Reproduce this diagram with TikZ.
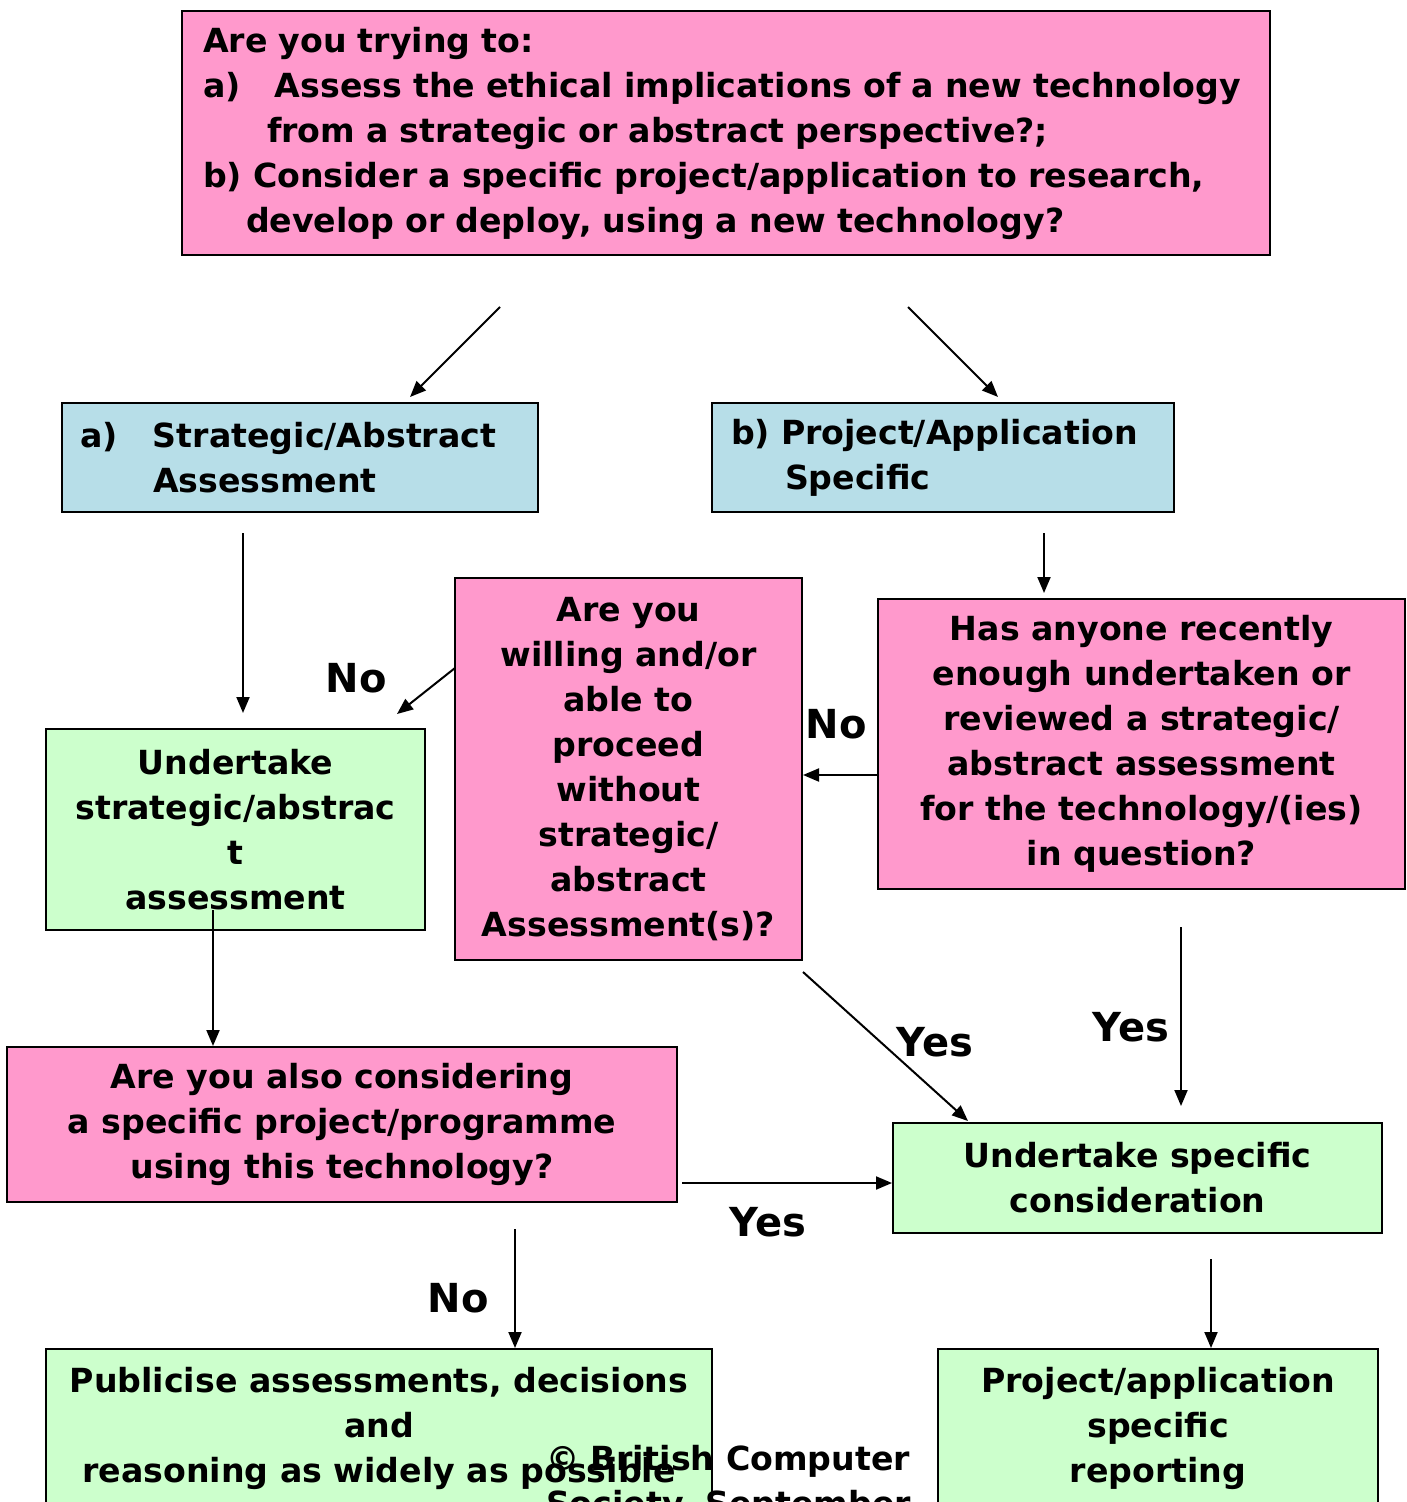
\documentclass[tikz,border=0pt]{standalone}
\usepackage{fontspec}
\setmainfont{DejaVu Sans}
\usetikzlibrary{arrows.meta}

\definecolor{qpink}{HTML}{FF99CC}
\definecolor{headblue}{HTML}{B7DEE8}
\definecolor{actgreen}{HTML}{CCFFCC}

\begin{document}
\begin{tikzpicture}[
  x=0.5pt, y=-0.5pt,
  every node/.style={font=\bfseries\fontsize{16.6}{22.5}\selectfont, inner sep=0pt},
  box/.style={draw, line width=1pt, align=center},
  ask/.style={box, fill=qpink},
  branch/.style={box, fill=headblue, align=left},
  act/.style={box, fill=actgreen},
  answer/.style={font=\bfseries\fontsize{20}{24}\selectfont},
  line width=1pt, >={Triangle[length=8pt,width=6.5pt]}
]
\useasboundingbox (0,0) rectangle (1406,1502);
\clip (0,0) rectangle (1406,1502);

% questions and actions
\node[ask, align=left, text width=523pt, inner xsep=10.5pt, minimum height=122pt] (trying) at (726,133)
  {Are you trying to:\\
   \makebox[36pt][l]{a)}Assess the ethical implications of a new technology\\
   \hspace*{32pt}from a strategic or abstract perspective?;\\
   b) Consider a specific project/application to research,\\
   \hspace*{21.5pt}develop or deploy, using a new technology?};

\node[branch, text width=220pt, inner xsep=9pt, minimum height=54.5pt] (strat) at (300,457.5)
  {\makebox[36.5pt][l]{a)}Strategic/Abstract\\\hspace*{36.5pt}Assessment};
\node[branch, text width=212pt, inner xsep=9.5pt, minimum height=54.5pt] (proj) at (943,457.5)
  {b) Project/Application\\\hspace*{27pt}Specific};

\node[ask, minimum width=173.5pt, minimum height=191pt] (willing) at (628.5,769)
  {Are you\\willing and/or\\able to\\proceed\\without\\strategic/\\abstract\\Assessment(s)?};
\node[ask, minimum width=263.5pt, minimum height=145pt] (recent) at (1141.5,744)
  {Has anyone recently\\enough undertaken or\\reviewed a strategic/\\abstract assessment\\for the technology/(ies)\\in question?};

\node[act, minimum width=189.5pt, minimum height=100.5pt] (doabstract) at (235.5,829.5)
  {Undertake\\strategic/abstrac\\t\\assessment};
\node[ask, minimum width=335pt, minimum height=77.5pt] (alsoproj) at (342,1124.5)
  {Are you also considering\\a specific project/programme\\using this technology?};
\node[act, minimum width=244.5pt, minimum height=55pt] (dospecific) at (1137.5,1178)
  {Undertake specific\\consideration};

\node[act, minimum width=333pt, minimum height=79pt] (publicise) at (379,1428)
  {Publicise assessments, decisions\\and\\reasoning as widely as possible};
\node[act, minimum width=220pt, minimum height=79pt] (report) at (1158,1428)
  {Project/application\\specific\\reporting};

\node[align=left, anchor=west] (copyr) at (545,1484) {© British Computer\\Society, September};

% free arrow ends
\coordinate (c1s) at (500,307);  \coordinate (c1e) at (410,397);
\coordinate (c2s) at (908,307);  \coordinate (c2e) at (998,397);
\coordinate (c3s) at (243,533);  \coordinate (c3e) at (243,713);
\coordinate (c4s) at (1044,533); \coordinate (c4e) at (1044,593);
\coordinate (c5) at (840,775);
\coordinate (c6s) at (455,668);  \coordinate (c6e) at (397,714);
\coordinate (c7s) at (213,910);
\coordinate (c8s) at (803,972);  \coordinate (c8e) at (968,1121);
\coordinate (c9s) at (1181,927); \coordinate (c9e) at (1181,1106);
\coordinate (c10s) at (682,1183);
\coordinate (c11s) at (515,1229);
\coordinate (c12s) at (1211,1259);

\draw[->] (c1s) -- (c1e);
\draw[->] (c2s) -- (c2e);
\draw[->] (c3s) -- (c3e);
\draw[->] (c4s) -- (c4e);
\draw[->] (recent.west |- c5) -- (willing.east |- c5);
\draw[->] (c6s) -- (c6e);
\draw[->] (c7s) -- (alsoproj.north -| c7s);
\draw[->] (c8s) -- (c8e);
\draw[->] (c9s) -- (c9e);
\draw[->] (c10s) -- (dospecific.west |- c10s);
\draw[->] (c11s) -- (publicise.north -| c11s);
\draw[->] (c12s) -- (report.north -| c12s);

% answers
\node[answer] (no1) at (356,678) {No};
\node[answer] (no2) at (836,724) {No};
\node[answer] (yes1) at (935,1042) {Yes};
\node[answer] (yes2) at (1131,1027) {Yes};
\node[answer] (yes3) at (768,1222) {Yes};
\node[answer] (no3) at (458,1298) {No};
\end{tikzpicture}
\end{document}
